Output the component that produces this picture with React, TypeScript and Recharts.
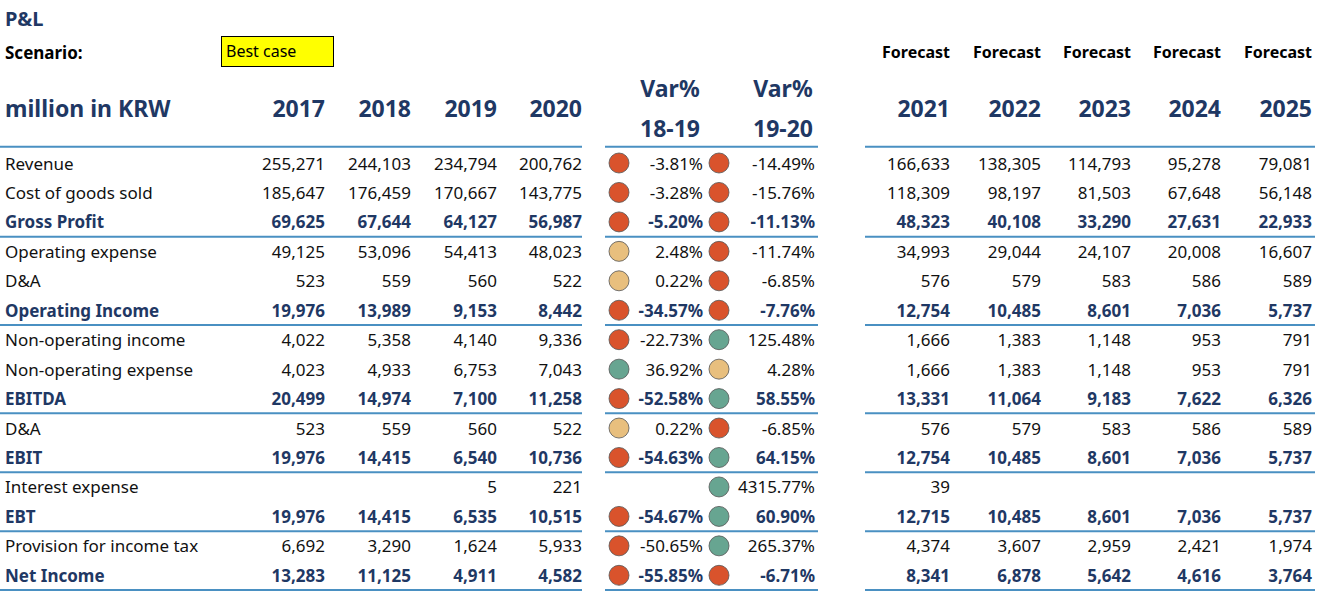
import React from "react";
import { ScatterChart, Scatter, XAxis, YAxis, ReferenceLine } from "recharts";

const rowLabels = ["Revenue","Cost of goods sold","Gross Profit","Operating expense","D&A","Operating Income","Non-operating income","Non-operating expense","EBITDA","D&A","EBIT","Interest expense","EBT","Provision for income tax","Net Income"];
const boldRows = [2,5,8,10,12,14];
const years = ["2017","2018","2019","2020"];
const forecastYears = ["2021","2022","2023","2024","2025"];
const varHeaders = ["18-19","19-20"];
const actuals: (number|null)[][] = [
  [255271,244103,234794,200762],[185647,176459,170667,143775],[69625,67644,64127,56987],
  [49125,53096,54413,48023],[523,559,560,522],[19976,13989,9153,8442],
  [4022,5358,4140,9336],[4023,4933,6753,7043],[20499,14974,7100,11258],
  [523,559,560,522],[19976,14415,6540,10736],[null,null,5,221],
  [19976,14415,6535,10515],[6692,3290,1624,5933],[13283,11125,4911,4582],
];
const variances: (number|null)[][] = [
  [-3.81,-14.49],[-3.28,-15.76],[-5.20,-11.13],[2.48,-11.74],[0.22,-6.85],[-34.57,-7.76],
  [-22.73,125.48],[36.92,4.28],[-52.58,58.55],[0.22,-6.85],[-54.63,64.15],[null,4315.77],
  [-54.67,60.90],[-50.65,265.37],[-55.85,-6.71],
];
const forecasts: (number|null)[][] = [
  [166633,138305,114793,95278,79081],[118309,98197,81503,67648,56148],[48323,40108,33290,27631,22933],
  [34993,29044,24107,20008,16607],[576,579,583,586,589],[12754,10485,8601,7036,5737],
  [1666,1383,1148,953,791],[1666,1383,1148,953,791],[13331,11064,9183,7622,6326],
  [576,579,583,586,589],[12754,10485,8601,7036,5737],[39,null,null,null,null],
  [12715,10485,8601,7036,5737],[4374,3607,2959,2421,1974],[8341,6878,5642,4616,3764],
];

// layout
const W = 1317, H = 592;
const ROW0 = 163, STEP = 29.45;
const yMin = -ROW0 / STEP, yMax = yMin + H / STEP;
const actualX = [325, 411, 497, 582];
const forecastX = [950, 1041, 1131, 1221, 1312];
const varTextX = [703, 815];
const varDotX = [619, 719];
const NAVY = "#1f3864";
const FONT = "'Noto Sans', 'Open Sans', sans-serif";
const fmt = (v: number | null) => (v == null ? "" : v.toLocaleString("en-US"));
const dotColor = (v: number) => (v < 0 ? "#d9532c" : v < 5 ? "#e8bf7e" : "#67a591");

type Cell = { x: number; y: number; text: string; anchor: string; bold: boolean; size?: number; color?: string };
const cells: Cell[] = [];
rowLabels.forEach((l, r) => {
  const bold = boldRows.includes(r);
  cells.push({ x: 5, y: r, text: l, anchor: "start", bold });
  actuals[r].forEach((v, c) => cells.push({ x: actualX[c], y: r, text: fmt(v), anchor: "end", bold }));
  forecasts[r].forEach((v, c) => cells.push({ x: forecastX[c], y: r, text: fmt(v), anchor: "end", bold }));
  variances[r].forEach((v, c) => {
    if (v != null) cells.push({ x: varTextX[c], y: r, text: v.toFixed(2) + "%", anchor: "end", bold });
  });
});
const dots: { x: number; y: number; color: string }[] = [];
variances.forEach((vs, r) => vs.forEach((v, c) => { if (v != null) dots.push({ x: varDotX[c], y: r, color: dotColor(v) }); }));

const hY = (px: number) => (px - ROW0) / STEP;
const headers: Cell[] = [
  { x: 5, y: hY(18), text: "P&L", anchor: "start", bold: true, size: 20, color: NAVY },
  { x: 5, y: hY(52), text: "Scenario:", anchor: "start", bold: true, size: 17, color: "#000" },
  { x: 5, y: hY(108), text: "million in KRW", anchor: "start", bold: true, size: 23, color: NAVY },
  ...years.map((t, i) => ({ x: actualX[i], y: hY(108), text: t, anchor: "end", bold: true, size: 23, color: NAVY })),
  ...forecastYears.map((t, i) => ({ x: forecastX[i], y: hY(108), text: t, anchor: "end", bold: true, size: 23, color: NAVY })),
  ...forecastYears.map((_, i) => ({ x: forecastX[i], y: hY(52), text: "Forecast", anchor: "end", bold: true, size: 16, color: "#000" })),
  ...varHeaders.map((t, i) => ({ x: [670, 783][i], y: hY(88), text: "Var%", anchor: "middle", bold: true, size: 23, color: NAVY })),
  ...varHeaders.map((t, i) => ({ x: [670, 783][i], y: hY(128), text: t, anchor: "middle", bold: true, size: 23, color: NAVY })),
];

const TextShape = (p: any) => {
  const d: Cell = p.payload;
  return (
    <text x={p.cx} y={p.cy} textAnchor={d.anchor as any} dominantBaseline="central"
      fontFamily={FONT} fontSize={d.size ?? 17} fontWeight={d.bold ? 700 : 400}
      fill={d.color ?? (d.bold ? NAVY : "#111")}>{d.text}</text>
  );
};
const DotShape = (p: any) => <circle cx={p.cx} cy={p.cy} r={10} fill={p.payload.color} stroke="#555" strokeWidth={0.8} />;

const sepRows = [-0.55, 2.5, 5.5, 8.5, 10.5, 12.5, 14.5];
const segs = [[0, 582], [605, 818], [865, 1315]];
const LINE = "#4a90c2";

export default function App() {
  return (
    <div style={{ position: "absolute", left: 0, top: 0, width: W, height: H, background: "#fff" }}>
      <div style={{ position: "absolute", left: 221, top: 36, width: 107, height: 29, background: "#ffff00", border: "1px solid #000", fontFamily: FONT, fontSize: 16, lineHeight: "29px", paddingLeft: 4, boxSizing: "content-box" }}>Best case</div>
      <ScatterChart width={W} height={H} margin={{ top: 0, right: 0, bottom: 0, left: 0 }} style={{ position: "absolute", left: 0, top: 0 }}>
        <XAxis type="number" dataKey="x" domain={[0, W]} hide />
        <YAxis type="number" dataKey="y" domain={[yMin, yMax]} reversed hide />
        {sepRows.flatMap((r) => segs.map(([a, b], i) => (
          <ReferenceLine key={r + "-" + i} segment={[{ x: a, y: r }, { x: b, y: r }]} stroke={LINE} strokeWidth={2} ifOverflow="visible" />
        )))}
        <Scatter data={headers} shape={TextShape} isAnimationActive={false} />
        <Scatter data={cells} shape={TextShape} isAnimationActive={false} />
        <Scatter data={dots} shape={DotShape} isAnimationActive={false} />
      </ScatterChart>
    </div>
  );
}
